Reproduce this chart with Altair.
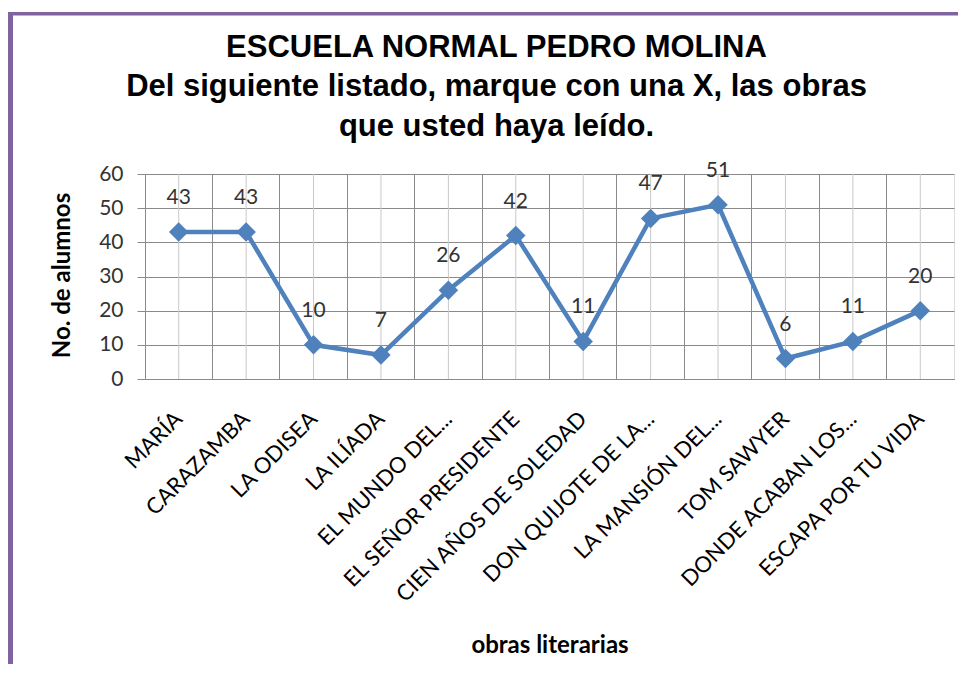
import altair as alt
import pandas as pd

categories = ["MARÍA", "CARAZAMBA", "LA ODISEA", "LA ILÍADA", "EL MUNDO DEL...",
              "EL SEÑOR PRESIDENTE", "CIEN AÑOS DE SOLEDAD", "DON QUIJOTE DE LA...",
              "LA MANSIÓN DEL...", "TOM SAWYER", "DONDE ACABAN LOS...", "ESCAPA POR TU VIDA"]
values = [43, 43, 10, 7, 26, 42, 11, 47, 51, 6, 11, 20]
y_ticks = [0, 10, 20, 30, 40, 50, 60]
title_lines = ["ESCUELA NORMAL  PEDRO MOLINA",
               "Del siguiente listado, marque con una X, las obras",
               "que usted haya leído."]

df = pd.DataFrame({"obra": categories, "n": values})

W, H = 809, 205
LABEL_FONT = "Lato"
BLUE = "#4F81BD"
PURPLE = "#8064A2"

xscale = alt.Scale(type="band", domain=categories, paddingInner=0, paddingOuter=0)
yscale = alt.Scale(domain=[0, 60], nice=False)

x_axis = alt.Axis(title="obras literarias", labelAngle=-45, labelAlign="right",
                  labelBaseline="middle", labelPadding=36, labelFont=LABEL_FONT,
                  labelFontSize=22, labelColor="#000000", ticks=False,
                  bandPosition=0, grid=True, gridColor="#8a8a8a", gridWidth=1,
                  domainColor="#8a8a8a", titleFont=LABEL_FONT, titleFontSize=24,
                  titleFontWeight="bold", titleColor="#000000", titleY=254,
                  labelOverlap=False, labelLimit=400)
y_axis = alt.Axis(title="No. de alumnos", values=y_ticks, grid=True, labelOverlap=False,
                  gridColor="#8a8a8a", domainColor="#8a8a8a", tickColor="#8a8a8a",
                  tickSize=8, labelPadding=14, labelFont=LABEL_FONT,
                  labelFontSize=21, labelColor="#333333", titleFont=LABEL_FONT,
                  titleFontSize=24, titleFontWeight="bold", titleColor="#000000",
                  titleX=-71, titleY=101)

x_main = alt.X("obra:N", scale=xscale, sort=categories, axis=x_axis)
y_main = alt.Y("n:Q", scale=yscale, axis=y_axis)

base = alt.Chart(df)

center_grid = base.mark_rule(color="#c8c8c8", strokeWidth=1).encode(x=x_main)
line = base.mark_line(color=BLUE, strokeWidth=4.5).encode(x=x_main, y=y_main)
points = base.mark_point(shape="diamond", filled=True, size=380, color=BLUE, opacity=1).encode(
    x=x_main, y=y_main)
labels = base.mark_text(font=LABEL_FONT, fontSize=21, color="#333333", dy=-34,
                        baseline="middle").encode(x=x_main, y=y_main, text="n:Q")

frame_data = alt.Data(values=[{"k": 1}])
top_border = alt.Chart(frame_data).mark_rule(color=PURPLE, strokeWidth=3.6).encode(
    x=alt.value(-140), x2=alt.value(830), y=alt.value(-160.2))
left_border = alt.Chart(frame_data).mark_rule(color=PURPLE, strokeWidth=5).encode(
    x=alt.value(-134.5), y=alt.value(-162), y2=alt.value(520))

chart = alt.layer(center_grid, line, points, labels, top_border, left_border).properties(
    width=W, height=H,
    title=alt.Title(text=title_lines, font="Liberation Sans", fontSize=31, fontWeight="bold",
                    color="#000000", anchor="middle", dx=-53, dy=137, lineHeight=39.5),
    autosize=alt.AutoSizeParams(type="none"),
    padding={"left": 137, "top": 166, "right": 4, "bottom": 285},
).configure_view(stroke="#8a8a8a", strokeWidth=1).configure(background="#ffffff")

chart.save("out.html", embed_options={"renderer": "svg", "actions": False})
